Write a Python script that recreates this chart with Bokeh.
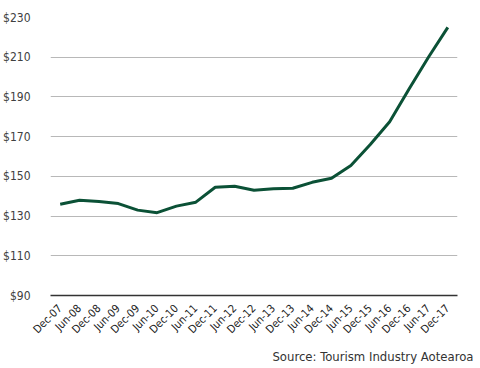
import math
from bokeh.plotting import figure
from bokeh.models import FixedTicker, PrintfTickFormatter, Range1d, Title
from bokeh.embed import file_html
from bokeh.resources import INLINE

periods = ["Dec-07", "Jun-08", "Dec-08", "Jun-09", "Dec-09", "Jun-10", "Dec-10",
           "Jun-11", "Dec-11", "Jun-12", "Dec-12", "Jun-13", "Dec-13", "Jun-14",
           "Dec-14", "Jun-15", "Dec-15", "Jun-16", "Dec-16", "Jun-17", "Dec-17"]
values = [136.0, 138.0, 137.3, 136.3, 133.0, 131.7, 135.0, 137.0, 144.5, 145.0,
          143.0, 143.7, 144.0, 147.0, 149.0, 155.5, 166.0, 177.5, 194.0, 210.0, 225.0]
y_ticks = [90, 110, 130, 150, 170, 190, 210, 230]
source_text = "Source: Tourism Industry Aotearoa"

FONT = "DejaVu Sans Condensed"

W, H = 476, 366
LEFT, RIGHT, TOP, BOTTOM = 47, 19, 17, 71

p = figure(x_range=periods, y_range=Range1d(90, 230), width=W, height=H,
           output_backend="svg", toolbar_location=None,
           min_border_left=LEFT, min_border_right=RIGHT, min_border_top=TOP,
           min_border_bottom=BOTTOM)
p.outline_line_color = None
p.background_fill_color = "white"
p.border_fill_color = "white"

p.line(periods, values, line_color="#0b5136", line_width=3)

p.yaxis.ticker = FixedTicker(ticks=y_ticks)
p.yaxis.formatter = PrintfTickFormatter(format="$%d")
p.yaxis.axis_line_color = None
p.yaxis.major_tick_line_color = None
p.yaxis.minor_tick_line_color = None
p.yaxis.major_label_text_font = FONT
p.yaxis.major_label_text_font_size = "12px"
p.yaxis.major_label_text_color = "#404040"
p.yaxis.major_label_standoff = 14

p.xaxis.axis_line_color = "#333333"
p.xaxis.axis_line_width = 1.5
p.xaxis.major_tick_line_color = None
p.xaxis.minor_tick_line_color = None
p.xaxis.major_label_orientation = math.pi / 4
p.xaxis.major_label_text_font = FONT
p.xaxis.major_label_text_font_size = "11px"
p.xaxis.major_label_text_color = "#222222"
p.xaxis.major_label_standoff = 5

p.xgrid.grid_line_color = None
p.ygrid.grid_line_color = "#b8b8b8"
p.ygrid.grid_line_width = 1

src = Title(text=source_text, align="right", offset=-16, standoff=6,
            text_font=FONT, text_font_size="13px", text_font_style="normal",
            text_color="#333333")
p.add_layout(src, "below")

open("out.html", "w").write(file_html(p, INLINE))
